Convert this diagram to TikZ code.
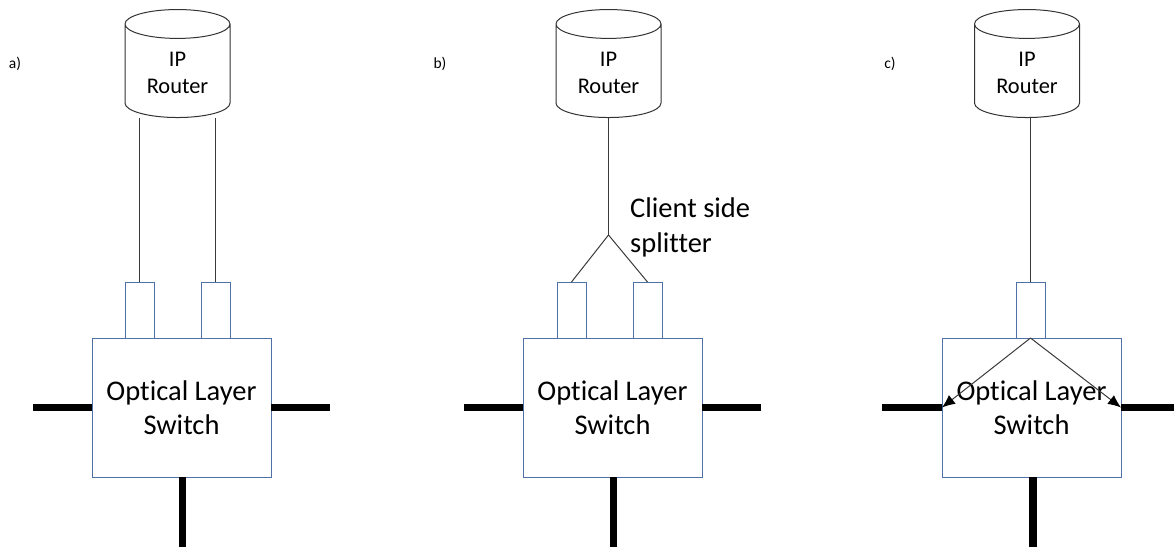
\documentclass[tikz,border=0pt]{standalone}
\usepackage{fontspec}
\setmainfont{Carlito}[Ligatures=NoCommon,Contextuals=NoAlternate]
\usetikzlibrary{shapes.geometric,arrows.meta}
\definecolor{boxblue}{HTML}{4F71A8}
\definecolor{wire}{HTML}{3A3A3A}
\newcommand{\routertext}{\raisebox{-8.5pt}[0pt][0pt]{\begin{tabular}{@{}c@{}}IP\\Router\end{tabular}}}
\tikzset{
  x=1pt,y=-1pt,
  router/.style={shape=cylinder,shape border rotate=90,draw=black!80,line width=1pt,aspect=0.47,
    minimum width=105pt,minimum height=108pt,inner sep=0pt,outer sep=0pt,
    font=\fontsize{22.4}{27}\selectfont},
  switchbox/.style={draw=boxblue,line width=0.9pt,minimum width=179pt,minimum height=139pt,inner sep=0pt,outer sep=0pt,
    align=center,font=\fontsize{28.5}{33.5}\selectfont},
  portbox/.style={draw=boxblue,line width=0.9pt,minimum width=29pt,minimum height=56pt,inner sep=0pt,outer sep=0pt},
  wireline/.style={draw=wire,line width=1pt},
  arrowline/.style={wireline,-{Latex[length=13pt,width=11pt,black]}},
  trunkh/.style={draw=black,line width=6.5pt},
  trunkv/.style={draw=black,line width=7.5pt},
  tag/.style={font=\fontsize{15.5}{17}\selectfont,inner sep=0pt},
  note/.style={font=\fontsize{28.5}{35}\selectfont,inner sep=0pt,align=left,anchor=north west}
}
\begin{document}
\begin{tikzpicture}
\useasboundingbox (0,0) rectangle (1174,547);
% panel a
\node[tag] (ta) at (15,64) {a)};
\node[router] (ra) at (177.5,71) {\routertext};
\node[switchbox] (sa) at (181.5,407.5) {Optical Layer\\Switch};
\node[portbox] (pa1) at (139.5,310) {};
\node[portbox] (pa2) at (215.5,310) {};
\draw[wireline] (pa1.north |- ra.south) -- (pa1.north);
\draw[wireline] (pa2.north |- ra.south) -- (pa2.north);
\coordinate (la) at (33,407.5);
\coordinate (rb) at (330,407.5);
\coordinate (ba) at (182.5,547);
\draw[trunkh] (la) -- (sa.west);
\draw[trunkh] (sa.east) -- (rb);
\draw[trunkv] (sa.south -| ba) -- (ba);
% panel b
\node[tag] (tb) at (440,64) {b)};
\node[router] (rc) at (608.5,71) {\routertext};
\node[switchbox] (sb) at (612.5,407.5) {Optical Layer\\Switch};
\node[portbox] (pb1) at (571.5,310) {};
\node[portbox] (pb2) at (647.5,310) {};
\coordinate (split) at (608.5,235);
\draw[wireline] (rc.south) -- (split);
\draw[wireline] (split) -- (pb1.north);
\draw[wireline] (split) -- (pb2.north);
\node[note] (cs) at (630,198) {Client side\\splitter};
\coordinate (lb) at (464,407.5);
\coordinate (rd) at (761,407.5);
\coordinate (bb) at (613.5,547);
\draw[trunkh] (lb) -- (sb.west);
\draw[trunkh] (sb.east) -- (rd);
\draw[trunkv] (sb.south -| bb) -- (bb);
% panel c
\node[tag] (tc) at (890,64) {c)};
\node[router] (re) at (1027,71) {\routertext};
\node[switchbox] (sc) at (1031.5,407.5) {Optical Layer\\Switch};
\node[portbox] (pc) at (1030.5,310) {};
\draw[wireline] (pc.north |- re.south) -- (pc.north);
\draw[arrowline] (pc.south) -- (sc.west);
\draw[arrowline] (pc.south) -- (sc.east);
\coordinate (lc) at (882,407.5);
\coordinate (re2) at (1174,407.5);
\coordinate (bc) at (1033,547);
\draw[trunkh] (lc) -- (sc.west);
\draw[trunkh] (sc.east) -- (re2);
\draw[trunkv] (sc.south -| bc) -- (bc);
\end{tikzpicture}
\end{document}
